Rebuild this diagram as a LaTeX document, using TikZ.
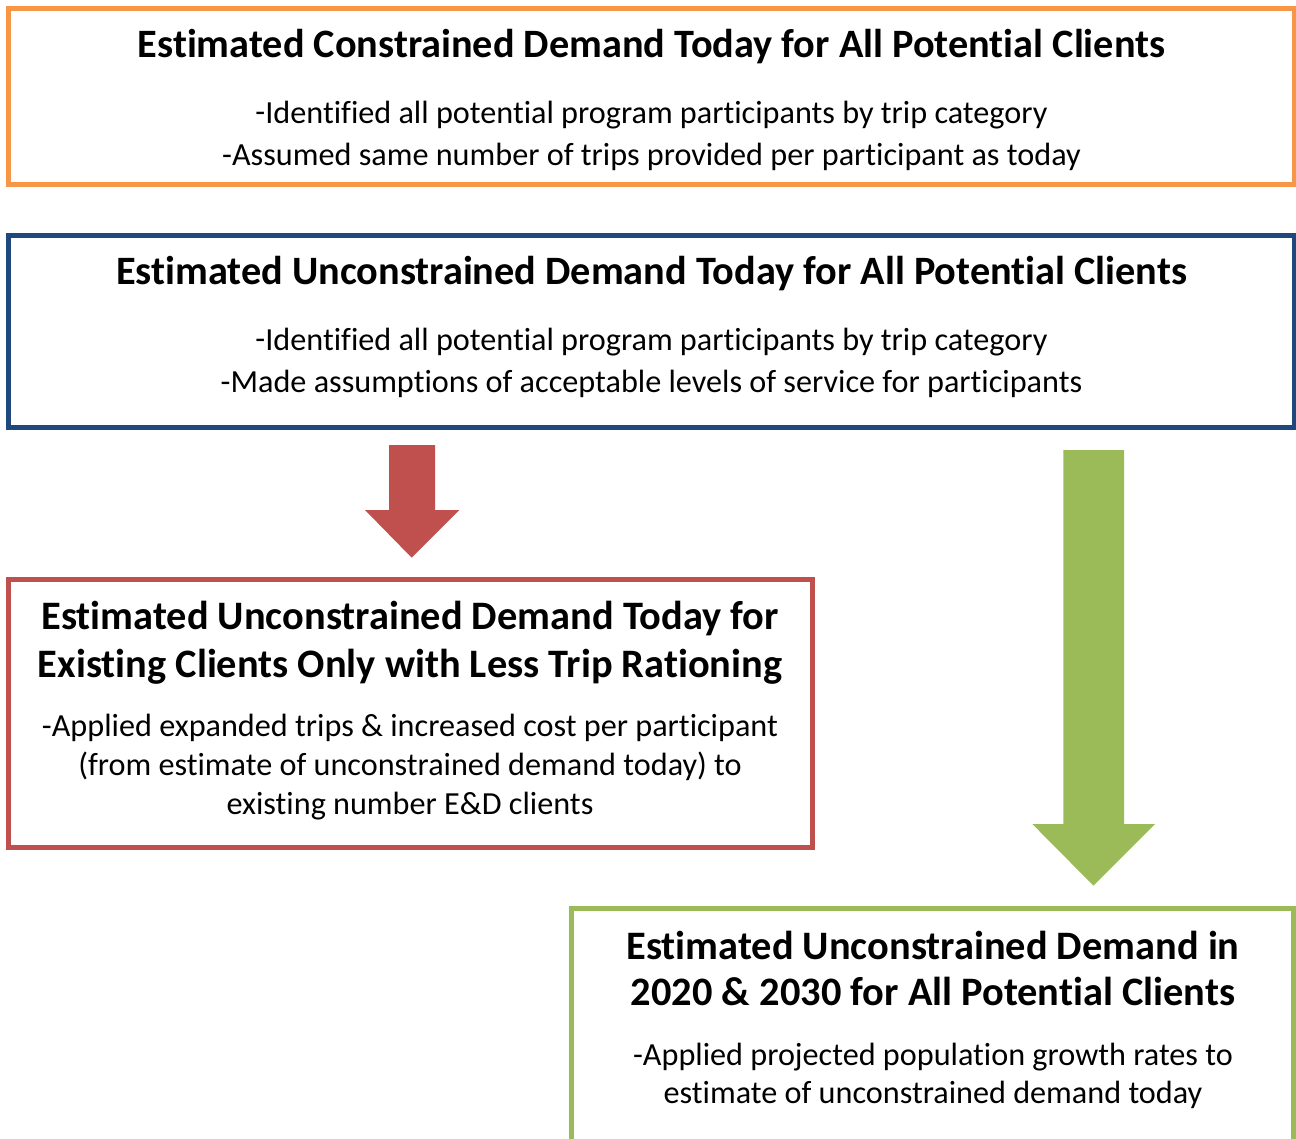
\documentclass[tikz,border=0pt]{standalone}
\usepackage{fontspec}
\setmainfont{Carlito}[Ligatures=NoCommon]
\definecolor{borange}{HTML}{F79646}
\definecolor{bblue}{HTML}{1F497D}
\definecolor{bred}{HTML}{C0504D}
\definecolor{bgreen}{HTML}{9BBB59}
\newcommand{\rdash}{\raisebox{1pt}{-}}
\begin{document}
\begin{tikzpicture}[x=1pt,y=-1pt,
  box/.style={draw,line width=5pt,inner sep=0pt,fill=white},
  ttlA/.style={font=\fontsize{40.3}{48}\selectfont\bfseries,inner sep=0pt,anchor=base},
  bodyA/.style={font=\fontsize{32.2}{38}\selectfont,inner sep=0pt,anchor=base},
  ttlB/.style={font=\fontsize{40.4}{48}\selectfont\bfseries,inner sep=0pt,anchor=base},
  bodyB/.style={font=\fontsize{32.2}{38}\selectfont,inner sep=0pt,anchor=base}]
\useasboundingbox (0,0) rectangle (1296,1139);
\clip (0,0) rectangle (1296,1139);
% boxes
\node[box,draw=borange,minimum width=1286pt,minimum height=176pt] (cbox) at (651.5,96.5) {};
\node[box,draw=bblue,minimum width=1285.5pt,minimum height=192pt] (ubox) at (651.25,331.5) {};
\node[box,draw=bred,minimum width=803.5pt,minimum height=268pt] (rbox) at (410.25,713.5) {};
\node[box,draw=bgreen,minimum width=722pt,minimum height=300pt] (gbox) at (932.5,1058) {};
% texts
\node[ttlA] (ct) at (651.5,58) {Estimated Constrained Demand Today for All Potential Clients};
\node[bodyA] (c1) at (651.5,124) {\rdash Identified all potential program participants by trip category};
\node[bodyA] (c2) at (651.5,165.5) {-Assumed same number of trips provided per participant as today};
\node[ttlA] (ut) at (651.5,285) {Estimated Unconstrained Demand Today for All Potential Clients};
\node[bodyA] (u1) at (651.5,351) {\rdash Identified all potential program participants by trip category};
\node[bodyA] (u2) at (651.5,392.5) {-Made assumptions of acceptable levels of service for participants};
\node[ttlB] (rt1) at (410,629.5) {Estimated Unconstrained Demand Today for};
\node[ttlB] (rt2) at (410,677.5) {Existing Clients Only with Less Trip Rationing};
\node[bodyB] (r1) at (410,736.5) {-Applied expanded trips \& increased cost per participant};
\node[bodyB] (r2) at (410,775.5) {(from estimate of unconstrained demand today) to};
\node[bodyB] (r3) at (410,814.5) {existing number E\&D clients};
\node[ttlB] (gt1) at (933,959.5) {Estimated Unconstrained Demand in};
\node[ttlB] (gt2) at (933,1005) {2020 \& 2030 for All Potential Clients};
\node[bodyB] (g1) at (933,1065) {-Applied projected population growth rates to};
\node[bodyB] (g2) at (933,1103) {estimate of unconstrained demand today};
% block arrows
\fill[bred] (389,445) -- (435,445) -- (435,510) -- (459.3,510) -- (411.7,557.7) -- (365,510) -- (389,510) -- cycle;
\fill[bgreen] (1063.3,450) -- (1124,450) -- (1124,824) -- (1155,824) -- (1093.5,885.7) -- (1032.3,824) -- (1063.3,824) -- cycle;
\end{tikzpicture}
\end{document}
